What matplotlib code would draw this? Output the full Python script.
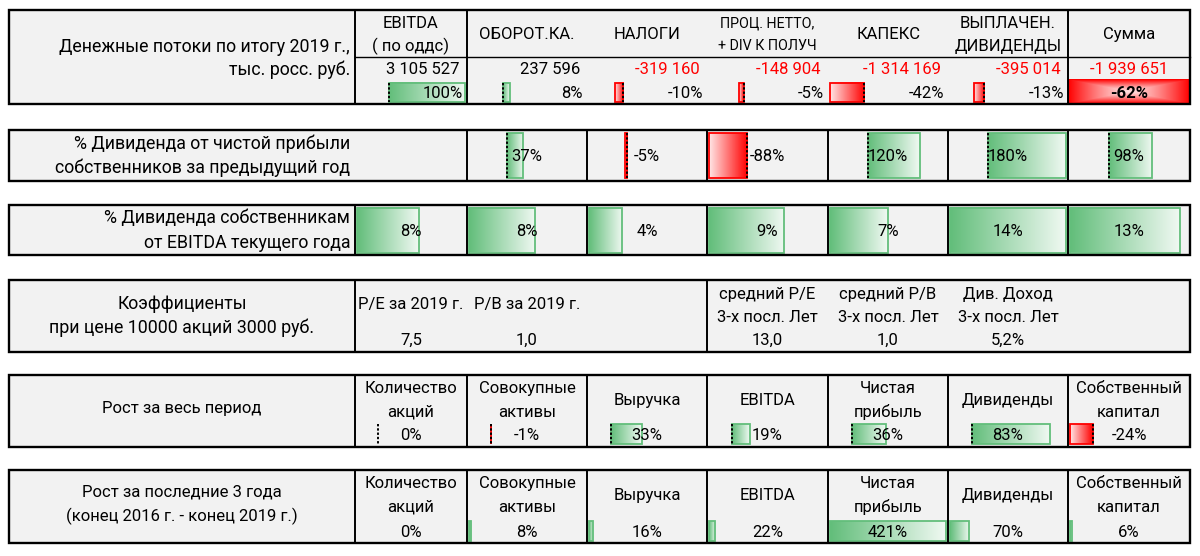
import numpy as np
import matplotlib
matplotlib.use("Agg")
import matplotlib.pyplot as plt
import matplotlib.colors as mcolors
from matplotlib.patches import Rectangle

plt.rcParams["font.family"] = ["Roboto", "DejaVu Sans"]

# ── Данные ────────────────────────────────────────────────────────────────────
flow_heads = ["EBITDA\n( по оддс)", "ОБОРОТ.КА.", "НАЛОГИ", "ПРОЦ. НЕТТО,\n+ DIV К ПОЛУЧ",
              "КАПЕКС", "ВЫПЛАЧЕН.\nДИВИДЕНДЫ", "Сумма"]
flow_values = [3105527, 237596, -319160, -148904, -1314169, -395014, -1939651]
flow_share = [1.00, 0.08, -0.10, -0.05, -0.42, -0.13, -0.62]

div_of_profit = [None, 0.37, -0.05, -0.88, 1.20, 1.80, 0.98]
div_of_ebitda = [0.08, 0.08, 0.04, 0.09, 0.07, 0.14, 0.13]

ratio_heads = ["P/E за 2019 г.", "P/B за 2019 г.", "средний P/E\n3-х посл. Лет",
               "средний P/B\n3-х посл. Лет", "Див. Доход\n3-х посл. Лет"]
ratio_values = ["7,5", "1,0", "13,0", "1,0", "5,2%"]
ratio_cols = [0, 1, 3, 4, 5]

growth_heads = ["Количество\nакций", "Совокупные\nактивы", "Выручка", "EBITDA",
                "Чистая\nприбыль", "Дивиденды", "Собственный\nкапитал"]
growth_all = [0.00, -0.01, 0.33, 0.19, 0.36, 0.83, -0.24]
growth_3y = [0.00, 0.08, 0.16, 0.22, 4.21, 0.70, 0.06]

# ── Стиль и сетка ячеек (пиксели) ────────────────────────────────────────────
GREEN = "#63BE7B"
RED = "#FF0000"
BG = "#F2F2F2"
FS = 12
FS_LABEL = 12.8
LEFT = 9
EDGES = [355, 467, 587, 707, 828, 948, 1068, 1190]

fig = plt.figure(figsize=(12, 5.56), dpi=100)
ax = fig.add_axes([0, 0, 1, 1])
ax.axis("off")


def mid(i):
    return (EDGES[i] + EDGES[i + 1]) / 2


def txt(x, y, s, ha="center", size=FS, color="black", weight="normal", lh=23):
    lines = s.split("\n")
    for k, line in enumerate(lines):
        yy = y + (k - (len(lines) - 1) / 2) * lh
        ax.text(x, yy, line, ha=ha, va="center", fontsize=size, color=color,
                fontweight=weight, zorder=7)


def block(y0, y1, splits):
    ax.add_patch(Rectangle((LEFT, y0), EDGES[-1] - LEFT, y1 - y0, facecolor=BG,
                           edgecolor="none", zorder=0))
    ax.add_patch(Rectangle((LEFT, y0), EDGES[-1] - LEFT, y1 - y0, fill=False,
                           edgecolor="black", lw=1.7, zorder=6))
    for x in splits:
        ax.plot([x, x], [y0, y1], color="black", lw=1.4, zorder=6)


def ramp(col, n=64, fade=0.9):
    c = np.array(mcolors.to_rgb(col))
    t = np.linspace(0, fade, n)[:, None]
    return (c * (1 - t) + t)[None, :, :]


def data_bar(i, y0, y1, v, lo, hi, pad=2):
    x0, x1 = EDGES[i], EDGES[i + 1]
    w = x1 - x0 - 2 * pad
    zero = x0 + pad + (0 - lo) / (hi - lo) * w
    end = zero + v / (hi - lo) * w
    col = GREEN if v >= 0 else RED
    if v != 0:
        ax.imshow(ramp(col), extent=(zero, end, y1, y0), aspect="auto",
                  interpolation="bilinear", zorder=2)
        ax.add_patch(Rectangle((min(zero, end), y0), abs(end - zero), y1 - y0,
                               fill=False, edgecolor=col, lw=1.3, zorder=3))
    if lo < 0:
        ax.plot([zero, zero], [y0, y1], color="black", lw=1.4,
                ls=(0, (1.2, 1.0)), zorder=4)


def pct(v):
    return f"{v * 100:.0f}%"


def money(v):
    return f"{v:,}".replace(",", " ")


# ── Блок 1: денежные потоки ──────────────────────────────────────────────────
block(9.5, 104, [355, 467, 1068])
ax.plot([355, EDGES[-1]], [57, 57], color="black", lw=1.0, zorder=6)
txt(350, 47, "Денежные потоки по итогу 2019 г.,", ha="right", size=FS_LABEL)
txt(350, 70, "тыс. росс. руб.", ha="right", size=FS_LABEL)
for i, h in enumerate(flow_heads):
    txt(mid(i), 34.5, h, size=10.3 if i == 3 else FS)
for i, v in enumerate(flow_values):
    c = RED if v < 0 else "black"
    if i < 6:
        txt(EDGES[i + 1] - 7, 70, money(v), ha="right", color=c)
    else:
        txt(mid(i), 70, money(v), color=c)

lo, hi = min(0, min(flow_share[:6])), max(0, max(flow_share[:6]))
for i, v in enumerate(flow_share[:6]):
    data_bar(i, 82.5, 102, v, lo, hi)
    txt(EDGES[i + 1] - 4, 93.5, pct(v), ha="right")

# итоговая ячейка: градиентная заливка от центра
u = np.abs(np.linspace(-1, 1, 122))[None, :]
w_ = np.abs(np.linspace(-1, 1, 25))[:, None]
t = np.maximum(u, w_) ** 1.3
t = 0.12 + 0.88 * t
red = np.array(mcolors.to_rgb(RED))
sum_fill = red[None, None, :] * t[..., None] + (1 - t[..., None])
ax.imshow(sum_fill, extent=(EDGES[6], EDGES[7], 104, 79.5), aspect="auto",
          interpolation="bilinear", zorder=2)
txt(mid(6), 93, pct(flow_share[6]), weight="bold")

# ── Блок 2: % дивиденда от чистой прибыли ────────────────────────────────────
block(130, 180.5, EDGES[1:7])
txt(350, 144, "% Дивиденда от чистой прибыли", ha="right", size=FS_LABEL)
txt(350, 168, "собственников за предыдущий год", ha="right", size=FS_LABEL)
vals = [v for v in div_of_profit if v is not None]
lo, hi = min(0, min(vals)), max(0, max(vals))
for i, v in enumerate(div_of_profit):
    if v is None:
        continue
    data_bar(i, 133, 178, v, lo, hi)
    txt(mid(i), 156.5, pct(v))

# ── Блок 3: % дивиденда от EBITDA ────────────────────────────────────────────
block(205, 255, EDGES[:7])
txt(350, 218, "% Дивиденда собственникам", ha="right", size=FS_LABEL)
txt(350, 243, "от EBITDA текущего года", ha="right", size=FS_LABEL)
lo, hi = min(0, min(div_of_ebitda)), max(0, max(div_of_ebitda))
for i, v in enumerate(div_of_ebitda):
    data_bar(i, 207.5, 252.5, v, lo, hi)
    txt(mid(i), 231.5, pct(v))

# ── Блок 4: коэффициенты ─────────────────────────────────────────────────────
block(280, 351.5, [355, 707])
txt((LEFT + 355) / 2, 316, "Коэффициенты\nпри цене 10000 акций 3000 руб.", lh=24,
    size=FS_LABEL)
for h, v, c in zip(ratio_heads, ratio_values, ratio_cols):
    if "\n" in h:
        txt(mid(c), 306, h, lh=22.5)
    else:
        txt(mid(c), 305, h)
    txt(mid(c), 340.5, v)

# ── Блоки 5–6: рост ──────────────────────────────────────────────────────────
def growth_block(y0, y1, label, vals, lo, hi, head_y, bar_y, val_y):
    block(y0, y1, EDGES[:7])
    txt((LEFT + 355) / 2, (y0 + y1) / 2 - 2, label, lh=24)
    for i, (h, v) in enumerate(zip(growth_heads, vals)):
        txt(mid(i), head_y, h, lh=23.5)
        data_bar(i, bar_y[0], bar_y[1], v, lo, hi)
        txt(mid(i), val_y, pct(v))


# в первом блоке максимум шкалы задан как 100%
growth_block(375, 447, "Рост за весь период", growth_all,
             min(0, min(growth_all)), 1.0, 400.5, (424, 444), 435.5)
growth_block(470, 542.5, "Рост за последние 3 года\n(конец 2016 г. - конец 2019 г.)",
             growth_3y, 0, max(growth_3y), 495.5, (521, 541), 532.5)

ax.set_xlim(0, 1200)
ax.set_ylim(556, 0)
fig.savefig("out.png", dpi=100, facecolor="white")
